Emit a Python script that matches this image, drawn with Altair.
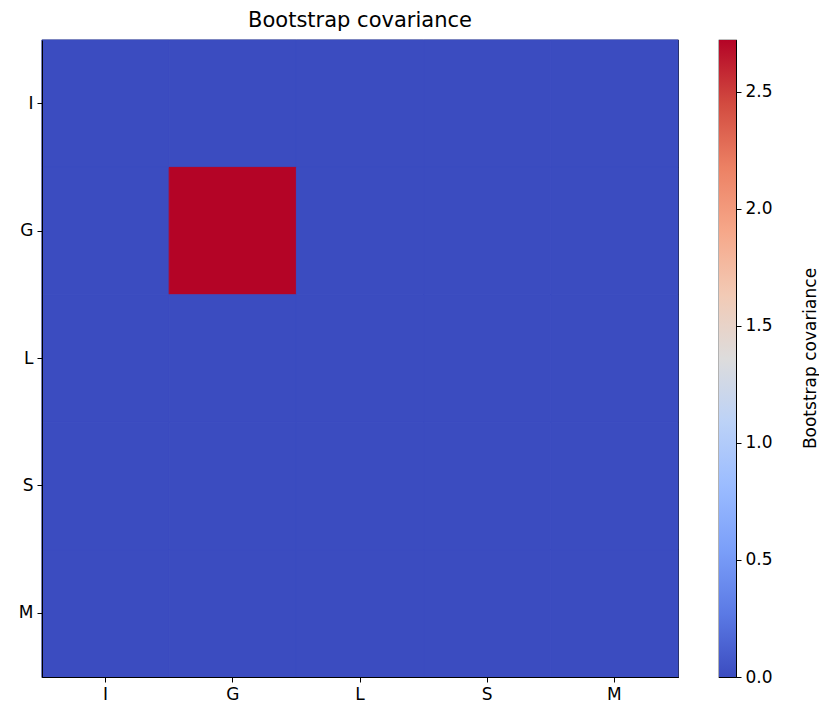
import altair as alt
import pandas as pd

labels = ["I", "G", "L", "S", "M"]
values = [
    [0.0, 0.0, 0.0, 0.0, 0.0],
    [0.0, 2.72, 0.0, 0.0, 0.0],
    [0.0, 0.0, 0.0, 0.0, 0.0],
    [0.0, 0.0, 0.0, 0.0, 0.0],
    [0.0, 0.0, 0.0, 0.0, 0.0],
]
cbar_ticks = [0.0, 0.5, 1.0, 1.5, 2.0, 2.5]
coolwarm = ["#3b4cc0", "#5b7ae5", "#7b9ff9", "#9bbcff", "#bcd2f7", "#dddcdc",
            "#f2cab5", "#f6a789", "#ec8164", "#d24b40", "#b40426"]

rows = []
for i, r in enumerate(labels):
    for j, c in enumerate(labels):
        rows.append({"row": r, "col": c, "value": values[i][j]})
df = pd.DataFrame(rows)
vmin = 0.0
vmax = max(max(r) for r in values)

FONT = "DejaVu Sans"
color_scale = alt.Scale(domain=[vmin, vmax], range=coolwarm, interpolate="rgb")

axis_common = dict(labelFontSize=17, labelFont=FONT, labelColor="black",
                   tickColor="black", tickSize=5, tickWidth=1, domainColor="black",
                   labelPadding=4, grid=False)

heat = alt.Chart(df).mark_rect(strokeWidth=1).encode(
    x=alt.X("col:N", sort=labels, title=None,
            scale=alt.Scale(paddingInner=0, paddingOuter=0),
            axis=alt.Axis(labelAngle=0, **axis_common)),
    y=alt.Y("row:N", sort=labels, title=None,
            scale=alt.Scale(paddingInner=0, paddingOuter=0),
            axis=alt.Axis(minExtent=36, maxExtent=36, **axis_common)),
    color=alt.Color("value:Q", scale=color_scale, legend=None),
    stroke=alt.Stroke("value:Q", scale=color_scale, legend=None),
).properties(width=636, height=637)

n = len(coolwarm)
stops = [alt.GradientStop(offset=i / (n - 1), color=c) for i, c in enumerate(coolwarm)]
cbar_df = pd.DataFrame({"lo": [vmin], "hi": [vmax]})
cbar = alt.Chart(cbar_df).mark_rect(
    fill=alt.Gradient(gradient="linear", stops=stops, x1=0, x2=0, y1=1, y2=0)
).encode(
    x=alt.value(0), x2=alt.value(17),
    y=alt.Y("lo:Q", scale=alt.Scale(domain=[vmin, vmax], nice=False, zero=False),
            axis=alt.Axis(orient="right", values=cbar_ticks, format=".1f",
                          title="Bootstrap covariance", titleFont=FONT, titleFontSize=17,
                          titleFontWeight="normal", titleColor="black", titleAngle=270,
                          titleX=74, titleY=318, titleAlign="center", titleBaseline="middle",
                          **axis_common)),
    y2="hi:Q",
).properties(width=17, height=637)

chart = alt.hconcat(heat, cbar, spacing=38).properties(
    title=alt.TitleParams("Bootstrap covariance", fontSize=21, font=FONT, fontWeight="normal",
                          color="black", offset=8, anchor="middle", dx=-52),
    padding={"left": 5, "top": 9, "right": 0, "bottom": 5},
).configure_view(stroke="black", strokeWidth=1.2)

chart.save("out.html", embed_options={"renderer": "svg", "actions": False})
